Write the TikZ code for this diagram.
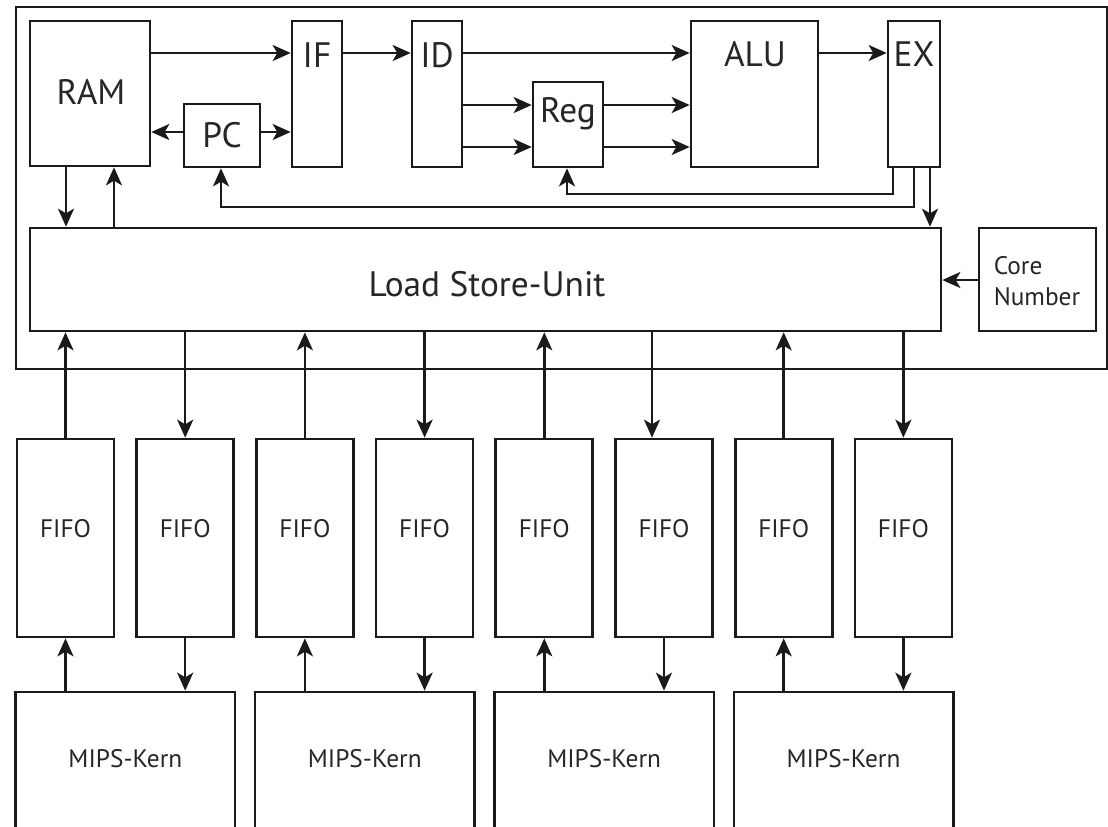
\documentclass[tikz,border=0pt]{standalone}
\usepackage{fontspec}
\setmainfont{PT Sans}
\usetikzlibrary{arrows.meta,fit}
\definecolor{ink}{HTML}{1A1A1A}
\definecolor{txt}{HTML}{262626}
\begin{document}
\begin{tikzpicture}[x=0.75pt,y=-0.75pt,
  box/.style={draw=ink, line width=2pt, inner sep=0pt, text=txt},
  arr/.style={draw=ink, line width=1.9pt, -{Stealth[length=13.5pt,width=12pt,inset=3.5pt]}},
  big/.style={text=txt, inner sep=0pt, font=\fontsize{26.5}{30}\selectfont},
  small/.style={text=txt, font=\fontsize{19}{23}\selectfont},
  tiny/.style={text=txt, inner sep=0pt, font=\fontsize{19}{20}\selectfont, align=left},
]
\useasboundingbox (0,0) rectangle (1108,826);
\clip (0,0) rectangle (1108,826);

% frame
\node[box, fit={(16,7) (1107,369)}] (cpu) {};

% pipeline
\node[box, fit={(30,21) (150,166)}] (ram) {};
\node[box, fit={(184,104) (260,167)}] (pc) {};
\node[box, fit={(292,21) (342,167)}] (if) {};
\node[box, fit={(412,21) (462,167)}] (id) {};
\node[box, fit={(533,82) (603,167)}] (reg) {};
\node[box, fit={(691,21) (818,167)}] (alu) {};
\node[box, fit={(888,21) (940,167)}] (ex) {};
\node[big, anchor=base] (tram) at (91,104) {RAM};
\node[big, anchor=base] (tpc) at (222,147) {PC};
\node[big, anchor=base] (tif) at (317,67) {IF};
\node[big, anchor=base] (tid) at (437,67) {ID};
\node[big, anchor=base] (treg) at (568,122) {Reg};
\node[big, anchor=base] (talu) at (755,66) {ALU};
\node[big, anchor=base] (tex) at (914,66) {EX};

\node[box, fit={(30,228) (941,331)}] (lsu) {};
\node[big, anchor=base] (tlsu) at (487,296) {Load Store-Unit};
\node[box, fit={(979,228) (1096,331)}] (cn) {};
\node[tiny] (tcn) at (1037,281) {Core\\[3pt]Number};

% FIFOs
\foreach \i in {0,...,7} {
  \pgfmathsetmacro\xl{17+119.7*\i}
  \pgfmathsetmacro\xr{\xl+97}
  \node[box, fit={(\xl,439) (\xr,637)}, small] (f\i) {FIFO};
}
% MIPS cores
\foreach \j/\a/\b in {0/0/1,1/2/3,2/4/5,3/6/7} {
  \node[box, fit={(f\a.west |- 0,692) (f\b.east |- 0,845)}] (m\j) {};
  \node[small, inner sep=0pt] (tm\j) at (m\j.north |- 0,759) {MIPS-Kern};
}

% top connectors
\draw[arr] (ram.east |- 0,53) -- (if.west |- 0,53);
\draw[arr] (if.east |- 0,53) -- (id.west |- 0,53);
\draw[arr] (id.east |- 0,53) -- (alu.west |- 0,53);
\draw[arr] (id.east |- 0,105) -- (reg.west |- 0,105);
\draw[arr] (id.east |- 0,147) -- (reg.west |- 0,147);
\draw[arr] (reg.east |- 0,105) -- (alu.west |- 0,105);
\draw[arr] (reg.east |- 0,147) -- (alu.west |- 0,147);
\draw[arr] (alu.east |- 0,53) -- (ex.west |- 0,53);
\draw[arr] (pc.west |- 0,132) -- (ram.east |- 0,132);
\draw[arr] (pc.east |- 0,132) -- (if.west |- 0,132);
\draw[arr] (ram.south -| 66,0) -- (lsu.north -| 66,0);
\draw[arr] (lsu.north -| 114,0) -- (ram.south -| 114,0);
\draw[arr] (ex.south -| 893,0) -- (893,194) -- (567,194) -- (reg.south -| 567,0);
\draw[arr] (ex.south -| 914,0) -- (914,207) -- (221,207) -- (pc.south -| 221,0);
\draw[arr] (ex.south -| 930,0) -- (lsu.north -| 930,0);
\draw[arr] (cn.west |- 0,280) -- (lsu.east |- 0,280);

% LSU <-> FIFO
\foreach \i in {0,2,4,6} {
  \draw[arr] (f\i.north) -- (f\i.north |- lsu.south);
}
\foreach \i in {1,3,7} {
  \draw[arr] (f\i.north |- lsu.south) -- (f\i.north);
}
\draw[arr] ([xshift=-9pt]f5.north |- lsu.south) -- ([xshift=-9pt]f5.north);

% FIFO <-> MIPS
\foreach \i/\j in {0/0,2/1,4/2,6/3} {
  \draw[arr] (f\i.south |- m\j.north) -- (f\i.south);
}
\foreach \i/\j in {1/0,3/1,5/2,7/3} {
  \draw[arr] (f\i.south) -- (f\i.south |- m\j.north);
}
\end{tikzpicture}
\end{document}
